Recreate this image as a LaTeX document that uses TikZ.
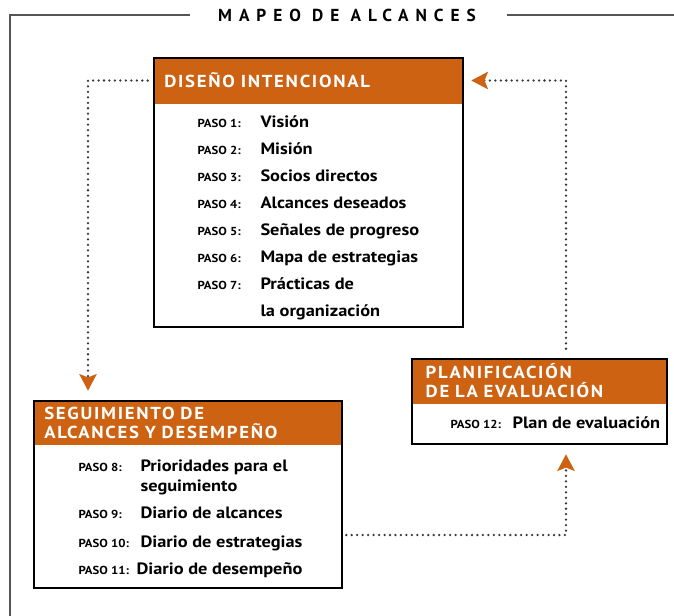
\documentclass[tikz,border=0pt]{standalone}
\usepackage{fontspec}
\setmainfont{PT Sans}
\newfontfamily\titlefont[LetterSpace=40]{PT Sans}
\newfontfamily\headfont[LetterSpace=10,FakeStretch=1.08]{PT Sans}
\newfontfamily\stepfont[FakeStretch=1.1]{PT Sans}
\newfontfamily\bodyfont[FakeStretch=1.12]{PT Sans}
\usetikzlibrary{arrows.meta,backgrounds}
\definecolor{mapaorange}{RGB}{205,98,18}
\definecolor{mapadots}{RGB}{55,55,55}
\definecolor{mapaframe}{RGB}{85,85,85}

\tikzset{every picture/.style={line width=0.75pt},
  panel/.style={draw=black, line width=1.9pt, inner sep=0pt},
  head/.style={fill=mapaorange, text=white, inner xsep=8.5pt, inner ysep=0pt, anchor=north west, align=left, font=\headfont\bfseries\fontsize{13}{14.25}\selectfont},
  steplabel/.style={anchor=base west, inner sep=0pt, font=\stepfont\bfseries\fontsize{8.7}{10}\selectfont},
  steptext/.style={anchor=base west, inner sep=0pt, font=\bodyfont\bfseries\fontsize{12.3}{14}\selectfont},
  flow/.style={draw=mapadots, line width=1.9pt, line cap=round, dash pattern=on 0pt off 4.1pt, -{Stealth[length=12.5pt,width=13pt,inset=2.5pt,color=mapaorange]}},
  frame/.style={draw=mapaframe, line width=1.2pt}
}

\begin{document}
\begin{tikzpicture}[x=0.75pt,y=0.75pt,yscale=-1,xscale=1]
\path[use as bounding box] (0,0) rectangle (674,615);

% Frame and title
\node[font=\titlefont\bfseries\fontsize{13}{15}\selectfont, inner sep=0pt] (title) at (347,15) {MAPEO DE ALCANCES};
\draw[frame] (10,630) -- (10,15) -- (190,15) ;
\draw[frame] (507,15) -- (690,15) ;

% Boxes
\node[panel, minimum width=231.75pt, minimum height=201.75pt] (dis) at (308.5,192.5) {};
\node[panel, minimum width=231pt, minimum height=140.25pt] (seg) at (188,494.5) {};
\node[panel, minimum width=191.25pt, minimum height=63.75pt] (plan) at (539.5,401.5) {};

% Headers
\begin{scope}[on background layer]
\node[head, text width=214.75pt, minimum height=35.25pt] (dishead) at (dis.north west) {DISEÑO INTENCIONAL};
\node[head, text width=214pt, minimum height=33.75pt] (seghead) at (seg.north west) {SEGUIMIENTO DE\\ALCANCES Y DESEMPEÑO};
\node[head, inner xsep=11pt, text width=169.25pt, minimum height=34.5pt] (planhead) at (plan.north west) {PLANIFICACIÓN\\DE LA EVALUACIÓN};
\end{scope}

% Text Node
\node[steplabel] (p1) at (197,127.5) {PASO 1:};
\node[steptext] (t1) at (260,127.5) {Visión};
\node[steplabel] (p2) at (197,154.5) {PASO 2:};
\node[steptext] (t2) at (260,154.5) {Misión};
\node[steplabel] (p3) at (197,181.5) {PASO 3:};
\node[steptext] (t3) at (260,181.5) {Socios directos};
\node[steplabel] (p4) at (197,208.5) {PASO 4:};
\node[steptext] (t4) at (260,208.5) {Alcances deseados};
\node[steplabel] (p5) at (197,235.5) {PASO 5:};
\node[steptext] (t5) at (260,235.5) {Señales de progreso};
\node[steplabel] (p6) at (197,262.5) {PASO 6:};
\node[steptext] (t6) at (260,262.5) {Mapa de estrategias};
\node[steplabel] (p7) at (197,289.5) {PASO 7:};
\node[steptext] (t7) at (260,289.5) {Prácticas de};
\node[steptext] (t7b) at (260,316.5) {la organización};
% Text Node
\node[steplabel] (p8) at (78,471) {PASO 8:};
\node[steptext] (t8) at (140,471) {Prioridades para el};
\node[steptext] (t8b) at (140,491) {seguimiento};
\node[steplabel] (p9) at (78,518.5) {PASO 9:};
\node[steptext] (t9) at (140,518.5) {Diario de alcances};
\node[steplabel] (p10) at (78,547) {PASO 10:};
\node[steptext] (t10) at (140,547) {Diario de estrategias};
\node[steplabel] (p11) at (78,574) {PASO 11:};
\node[steptext] (t11) at (136,574) {Diario de desempeño};
% Text Node
\node[steplabel] (p12) at (450,428.5) {PASO 12:};
\node[steptext] (t12) at (512,428.5) {Plan de evaluación};

% Dotted connectors
\coordinate (k1) at (88,82);
\coordinate (k2) at (566,82);
\coordinate (k3) at (566,535);
\draw[flow, shorten <=3.75pt, shorten >=6.75pt] (dishead.west) -| (k1 |- seg.north) ;
\draw[flow, shorten <=6.75pt, shorten >=6.75pt] (k2 |- plan.north) |- (dishead.east) ;
\draw[flow, shorten <=2.25pt, shorten >=6.75pt] (seg.east |- k3) -| (k3 |- plan.south) ;

\end{tikzpicture}
\end{document}
